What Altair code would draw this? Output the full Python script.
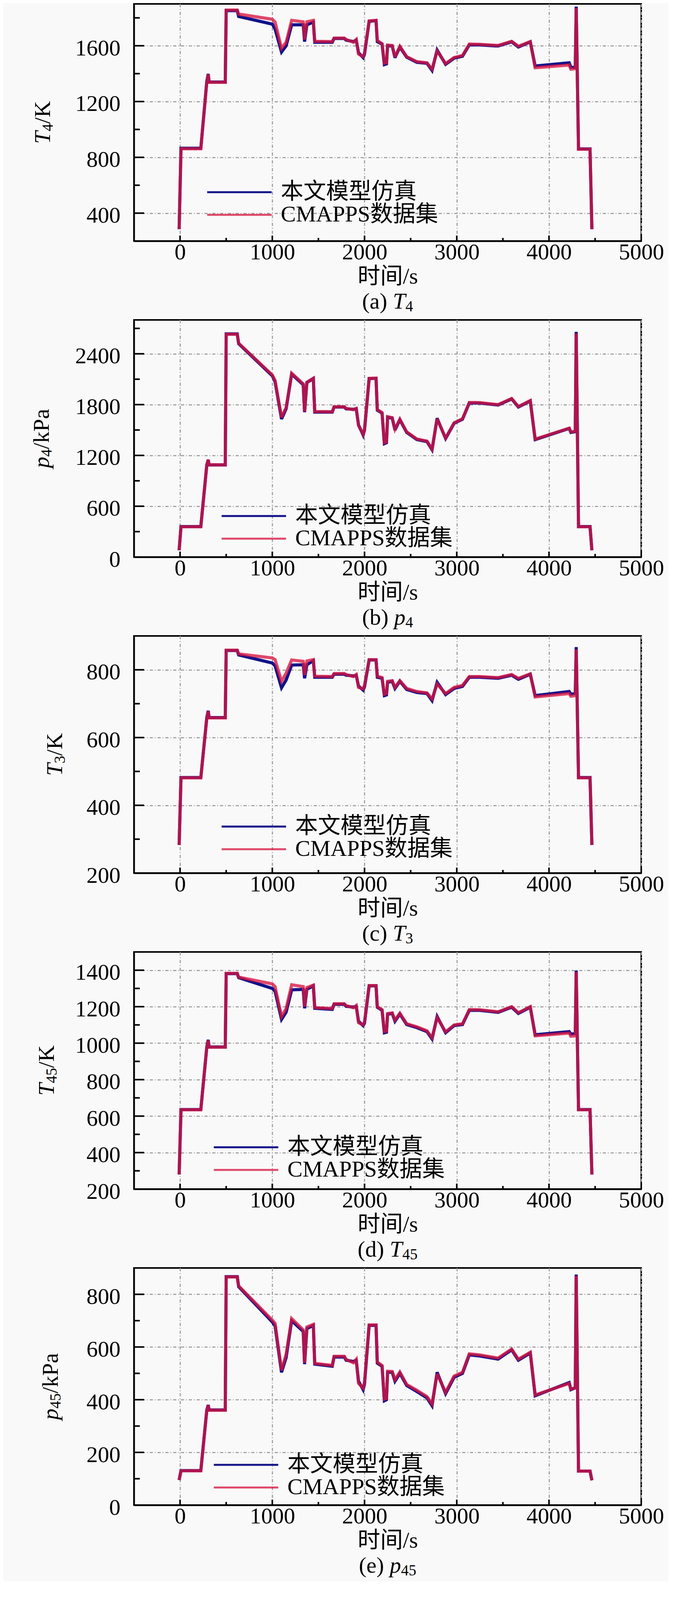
import altair as alt
import pandas as pd

# ---------------- data ----------------
TIME = [-10, 10, 225, 290, 305, 315, 490, 500, 620, 635,
        1000, 1030, 1100, 1150, 1210, 1335, 1350, 1375, 1445, 1460,
        1650, 1670, 1780, 1800, 1880, 1910, 1935, 1985, 2000, 2050,
        2125, 2138, 2190, 2215, 2238, 2250, 2300, 2330, 2383, 2457,
        2567, 2677, 2732, 2787, 2879, 2971, 3062, 3136, 3246, 3448,
        3595, 3668, 3797, 3850, 4219, 4237, 4285, 4295, 4320, 4445,
        4465]

SERIES = ["本文模型仿真", "CMAPPS数据集"]

T4_SIM = [285, 865, 865, 1345, 1398, 1340, 1340, 1852, 1852, 1810,
          1755, 1720, 1555, 1600, 1750, 1750, 1630, 1750, 1770, 1625,
          1625, 1652, 1652, 1640, 1630, 1640, 1550, 1515, 1540, 1775,
          1780, 1630, 1612, 1465, 1470, 1600, 1598, 1515, 1590, 1518,
          1481, 1474, 1423, 1569, 1467, 1511, 1525, 1606, 1606, 1598,
          1628, 1591, 1628, 1455, 1478, 1445, 1445, 1880, 860, 860,
          285]
T4_CM = [285, 862, 862, 1340, 1395, 1338, 1338, 1856, 1856, 1827,
         1790, 1770, 1582, 1625, 1782, 1772, 1645, 1772, 1782, 1632,
         1630, 1655, 1655, 1645, 1625, 1645, 1540, 1522, 1550, 1778,
         1782, 1638, 1615, 1475, 1478, 1605, 1602, 1520, 1596, 1522,
         1486, 1478, 1432, 1562, 1472, 1516, 1530, 1612, 1610, 1602,
         1632, 1596, 1630, 1442, 1462, 1432, 1436, 1870, 858, 858,
         285]

P4_SIM = [80, 360, 360, 1087, 1147, 1087, 1087, 2635, 2635, 2520,
          2140, 2070, 1630, 1750, 2160, 2035, 1711, 2060, 2107, 1711,
          1711, 1771, 1771, 1750, 1745, 1750, 1560, 1440, 1500, 2107,
          2110, 1735, 1699, 1339, 1350, 1650, 1640, 1500, 1620, 1471,
          1387, 1363, 1267, 1639, 1399, 1579, 1627, 1819, 1819, 1795,
          1867, 1771, 1843, 1387, 1519, 1471, 1480, 2659, 360, 360,
          80]
P4_CM = [80, 358, 358, 1090, 1150, 1090, 1090, 2630, 2630, 2525,
         2150, 2085, 1650, 1765, 2170, 2045, 1720, 2065, 2112, 1718,
         1716, 1775, 1775, 1755, 1740, 1755, 1552, 1450, 1510, 2110,
         2112, 1742, 1705, 1350, 1360, 1658, 1646, 1510, 1628, 1478,
         1394, 1370, 1275, 1630, 1405, 1585, 1633, 1825, 1823, 1800,
         1872, 1777, 1848, 1392, 1522, 1478, 1485, 2640, 358, 358,
         80]

T3_SIM = [283, 482, 482, 659, 679, 659, 659, 857, 857, 844,
          820, 812, 747, 770, 814, 815, 775, 815, 827, 778,
          778, 787, 787, 784, 782, 784, 752, 740, 750, 829,
          829, 778, 775, 724, 726, 763, 766, 745, 766, 742,
          733, 730, 709, 763, 727, 745, 751, 778, 778, 775,
          784, 772, 787, 724, 736, 728, 730, 867, 482, 482,
          283]
T3_CM = [283, 481, 481, 658, 678, 658, 658, 858, 858, 847,
         835, 830, 766, 790, 829, 825, 785, 826, 830, 781,
         780, 789, 789, 786, 780, 786, 748, 744, 755, 830,
         830, 781, 777, 728, 730, 766, 768, 748, 768, 745,
         736, 732, 714, 758, 730, 748, 754, 780, 780, 777,
         786, 775, 788, 720, 730, 722, 724, 860, 481, 481,
         283]

T45_SIM = [280, 636, 636, 979, 1018, 979, 979, 1381, 1381, 1359,
           1300, 1285, 1130, 1170, 1292, 1295, 1191, 1295, 1314, 1191,
           1185, 1213, 1213, 1202, 1198, 1202, 1120, 1096, 1110, 1314,
           1314, 1197, 1180, 1057, 1060, 1158, 1163, 1120, 1160, 1102,
           1085, 1063, 1023, 1146, 1057, 1096, 1102, 1180, 1180, 1169,
           1197, 1163, 1197, 1046, 1063, 1050, 1052, 1398, 636, 636,
           280]
T45_CM = [280, 635, 635, 978, 1015, 978, 978, 1383, 1383, 1362,
          1325, 1310, 1146, 1190, 1320, 1310, 1200, 1305, 1318, 1195,
          1190, 1216, 1216, 1206, 1194, 1206, 1112, 1100, 1118, 1316,
          1316, 1200, 1184, 1064, 1066, 1162, 1166, 1126, 1164, 1106,
          1090, 1068, 1030, 1140, 1062, 1100, 1106, 1184, 1183, 1172,
          1200, 1167, 1200, 1040, 1055, 1038, 1040, 1390, 635, 635,
          280]

P45_SIM = [95, 131, 131, 361, 380, 361, 361, 867, 867, 829,
           695, 680, 504, 560, 700, 659, 535, 670, 682, 535,
           527, 562, 562, 550, 545, 550, 470, 438, 460, 682,
           682, 539, 527, 396, 400, 504, 504, 470, 500, 454,
           431, 407, 377, 504, 423, 485, 500, 570, 566, 554,
           589, 550, 577, 415, 465, 438, 445, 875, 129, 129,
           94]
P45_CM = [95, 130, 130, 360, 378, 360, 360, 866, 866, 832,
          702, 690, 512, 572, 708, 665, 540, 676, 686, 538,
          530, 565, 565, 553, 540, 553, 462, 444, 468, 684,
          684, 543, 530, 402, 405, 508, 507, 476, 505, 458,
          436, 412, 384, 498, 428, 490, 504, 574, 570, 558,
          592, 554, 580, 418, 462, 440, 446, 870, 129, 129,
          94]

X_MAJOR = [0, 1000, 2000, 3000, 4000, 5000]
X_MINOR = [500, 1500, 2500, 3500, 4500]

PANELS = [
    dict(sim=T4_SIM, cm=T4_CM, domain=[200, 1900],
         major=[400, 800, 1200, 1600], minor=[600, 1000, 1400, 1800],
         ytitle=[("T", "i"), ("4", "sub"), ("/K", "n")],
         caption=[("(a) ", "n"), ("T", "i"), ("4", "sub")],
         ybase=-215, legend=(186, 482)),
    dict(sim=P4_SIM, cm=P4_CM, domain=[0, 2800],
         major=[0, 600, 1200, 1800, 2400], minor=[300, 900, 1500, 2100, 2700],
         ytitle=[("p", "i"), ("4", "sub"), ("/kPa", "n")],
         caption=[("(b) ", "n"), ("p", "i"), ("4", "sub")],
         ybase=-218, legend=(223, 502)),
    dict(sim=T3_SIM, cm=T3_CM, domain=[200, 900],
         major=[200, 400, 600, 800], minor=[300, 500, 700],
         ytitle=[("T", "i"), ("3", "sub"), ("/K", "n")],
         caption=[("(c) ", "n"), ("T", "i"), ("3", "sub")],
         ybase=-184, legend=(223, 488)),
    dict(sim=T45_SIM, cm=T45_CM, domain=[200, 1500],
         major=[200, 400, 600, 800, 1000, 1200, 1400],
         minor=[300, 500, 700, 900, 1100, 1300],
         ytitle=[("T", "i"), ("45", "sub"), ("/K", "n")],
         caption=[("(d) ", "n"), ("T", "i"), ("45", "sub")],
         ybase=-205, legend=(203, 500)),
    dict(sim=P45_SIM, cm=P45_CM, domain=[0, 900],
         major=[0, 200, 400, 600, 800], minor=[100, 300, 500, 700],
         ytitle=[("p", "i"), ("45", "sub"), ("/kPa", "n")],
         caption=[("(e) ", "n"), ("p", "i"), ("45", "sub")],
         ybase=-195, legend=(203, 504)),
]

# ---------------- style / layout ----------------
# the photographed page is only ~4096 px tall, so the vertical layout of the
# reference is compressed to make all five panels fit
W, H = 1299, 607
SPACING = 202
LABEL_BASE, TITLE_BASE, CAPTION_BASE = 46, 108, 173
FONT = "Liberation Serif, Noto Sans CJK SC"
FS, SUB_FS, SUB_SHIFT = 58, 39, 7
LEG_FS = 58
BLUE, RED = "#12128a", "#d81440"
GRID = "#a3a3a3"
BG = "#f9f9f9"
EMW = {"(": .333, ")": .333, " ": .25, "a": .444, "b": .5, "c": .444, "d": .5,
       "e": .444, "/": .278, "K": .722, "k": .5, "P": .556, "T": .556, "p": .5}
ONE = pd.DataFrame({"k": [0]})


def piece_width(txt, size):
    return sum(EMW.get(ch, 0.5) for ch in txt) * size


def rich(pieces, cx, cy, vertical):
    sizes = [SUB_FS if st == "sub" else FS for _, st in pieces]
    widths = [piece_width(tx, sz) for (tx, _), sz in zip(pieces, sizes)]
    pos = -sum(widths) / 2
    out = []
    for (tx, st), sz, w in zip(pieces, sizes, widths):
        shift = SUB_SHIFT if st == "sub" else 0
        if vertical:
            x, y = cx + shift, cy - pos
        else:
            x, y = cx + pos, cy + shift
        out.append(
            alt.Chart(ONE).mark_text(
                text=tx, font=FONT, fontSize=sz,
                fontStyle="italic" if st == "i" else "normal",
                align="left", baseline="alphabetic",
                angle=270 if vertical else 0, color="black",
            ).encode(x=alt.value(x), y=alt.value(y))
        )
        pos += w
    return out


def make_panel(p):
    xs = alt.Scale(domain=[-500, 5000], nice=False, zero=False)
    ys = alt.Scale(domain=p["domain"], nice=False, zero=False)
    xax = alt.Axis(values=X_MAJOR, format="d", title="时间/s", titleY=TITLE_BASE,
                   titleBaseline="alphabetic", labelPadding=LABEL_BASE,
                   labelBaseline="alphabetic", grid=True)
    yax = alt.Axis(values=p["major"], format="d", title=None, labelPadding=35,
                   labelOffset=7, grid=True)

    def X():
        return alt.X("t:Q", scale=xs, axis=xax)

    def Y():
        return alt.Y("v:Q", scale=ys, axis=yax)

    lx, ly = p["legend"]
    leg = alt.Legend(title=None, orient="none", legendX=lx - 2.5, legendY=ly - LEG_FS / 2,
                     symbolType="M-1,0H5.6", symbolSize=2500, symbolStrokeWidth=5,
                     labelFont=FONT, labelFontSize=LEG_FS, labelColor="black",
                     labelOffset=134.5, rowPadding=0, padding=0, labelLimit=2000)

    def series_df(vals, name):
        return pd.DataFrame({"t": TIME, "v": vals, "s": [name] * len(TIME)})

    color = alt.Color("s:N", scale=alt.Scale(domain=SERIES, range=[BLUE, RED]), legend=leg)
    opac = alt.Opacity("s:N", scale=alt.Scale(domain=SERIES, range=[1.0, 0.78]), legend=leg)

    x_major = pd.DataFrame({"t": X_MAJOR})
    x_minor = pd.DataFrame({"t": X_MINOR})
    y_major = pd.DataFrame({"v": p["major"]})
    y_minor = pd.DataFrame({"v": p["minor"]})

    ticks = [
        alt.Chart(x_major).mark_rule(color="black", strokeWidth=4).encode(
            x=X(), y=alt.value(H), y2=alt.value(H - 14)),
        alt.Chart(x_minor).mark_rule(color="black", strokeWidth=4).encode(
            x=X(), y=alt.value(H), y2=alt.value(H - 8)),
        alt.Chart(y_major).mark_rule(color="black", strokeWidth=4).encode(
            y=Y(), x=alt.value(0), x2=alt.value(26)),
        alt.Chart(y_minor).mark_rule(color="black", strokeWidth=4).encode(
            y=Y(), x=alt.value(0), x2=alt.value(15)),
    ]
    lines = [
        alt.Chart(series_df(p["sim"], SERIES[0])).mark_line(
            strokeWidth=8, clip=True, strokeMiterLimit=3).encode(
            x=X(), y=Y(), color=color, opacity=opac),
        alt.Chart(series_df(p["cm"], SERIES[1])).mark_line(
            strokeWidth=8, clip=True, strokeMiterLimit=3).encode(
            x=X(), y=Y(), color=color, opacity=opac),
    ]
    texts = rich(p["ytitle"], p["ybase"], H / 2, True) + \
        rich(p["caption"], W / 2, H + CAPTION_BASE, False)
    return alt.layer(*ticks, *lines, *texts).properties(width=W, height=H)


chart = alt.vconcat(*[make_panel(p) for p in PANELS], spacing=SPACING, bounds="flush")
chart = chart.resolve_legend(color="independent", opacity="independent").properties(
    padding={"left": 69, "top": 0, "right": 10, "bottom": 5}
).configure(background=BG).configure_view(
    stroke="black", strokeWidth=4
).configure_axis(
    domainColor="black", domainWidth=4, ticks=False,
    labelFont=FONT, labelFontSize=FS, labelColor="black",
    labelFlush=False, labelOverlap=False,
    titleFont=FONT, titleFontSize=FS, titleColor="black", titleFontWeight="normal",
    gridColor=GRID, gridWidth=3, gridDash=[8, 5, 2, 5],
)

chart.save("out.html", embed_options={"renderer": "svg", "actions": False})
